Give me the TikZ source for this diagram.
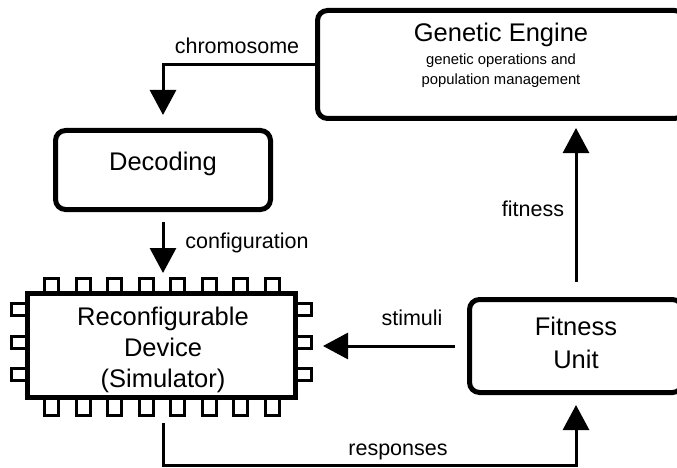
\documentclass[tikz,border=0pt]{standalone}
\usepackage{fontspec}
\setmainfont{Liberation Sans}
\usetikzlibrary{arrows.meta}
\begin{document}
\begin{tikzpicture}[x=1pt,y=-1pt,
  box/.style={draw, line width=5pt, rounded corners=10pt, fill=white, inner sep=0pt},
  chipbox/.style={draw, line width=5pt, fill=white, inner sep=0pt},
  pin/.style={draw, line width=3pt, fill=white},
  arr/.style={line width=3pt, -{Triangle[length=25pt,width=26pt]}},
  big/.style={font=\fontsize{25.5}{30}\selectfont, inner sep=0pt, anchor=base},
  small/.style={font=\fontsize{14.8}{18}\selectfont, inner sep=0pt, anchor=base},
  lab/.style={font=\fontsize{21.5}{25}\selectfont, inner sep=0pt, anchor=base}]
\clip (0,0) rectangle (677,468);
\fill[white] (0,0) rectangle (677,468);
% boxes
\node[box, minimum width=367pt, minimum height=108pt] (ge) at (501,64.5) {};
\node[box, minimum width=215pt, minimum height=79pt] (dec) at (163,170) {};
\node[box, minimum width=213pt, minimum height=93pt] (fit) at (576,346) {};
% chip pins
\foreach \i in {0,...,7} {
  \draw[pin] (44.5+31.5*\i,278.5) rectangle ++(14,17);
  \draw[pin] (44.5+31.5*\i,395) rectangle ++(14,20.5);
}
\foreach \yy in {303.5,336,368.5} {
  \draw[pin] (11.5,\yy) rectangle (30,\yy+12);
  \draw[pin] (293,\yy) rectangle (311.5,\yy+12);
}
\node[chipbox, minimum width=268pt, minimum height=104pt] (chip) at (161.5,345.5) {};
% texts
\node[big] (tge) at (501,42) {Genetic Engine};
\node[small] (tge2) at (501,65) {genetic operations and};
\node[small] (tge3) at (501,85) {population management};
\node[big] (tdec) at (163,170) {Decoding};
\node[big] (tc1) at (163,325) {Reconfigurable};
\node[big] (tc2) at (163,356) {Device};
\node[big] (tc3) at (163,387) {(Simulator)};
\node[big] (tf1) at (576,335) {Fitness};
\node[big] (tf2) at (576,368) {Unit};
% connectors
\draw[arr, shorten >=13pt] (ge.west) -| (dec.north);
\draw[arr, shorten <=10pt, shorten >=18pt] (dec.south) -- (dec.south |- chip.north);
\draw[arr, shorten <=12pt, shorten >=25pt] (fit.west) -- (chip.east |- fit.west);
\draw[arr, shorten <=15pt, shorten >=7pt] (fit.north) -- (fit.north |- ge.south);
\draw[arr, shorten <=23pt, shorten >=10pt] (dec.south |- chip.south) -- ++(0,65) -| (fit.south);
% labels
\node[lab] (lchrom) at (237,54) {chromosome};
\node[lab] (lconf) at (247,248) {configuration};
\node[lab] (lstim) at (412,325) {stimuli};
\node[lab] (lfit) at (533,216) {fitness};
\node[lab] (lresp) at (398,455) {responses};
\end{tikzpicture}
\end{document}
